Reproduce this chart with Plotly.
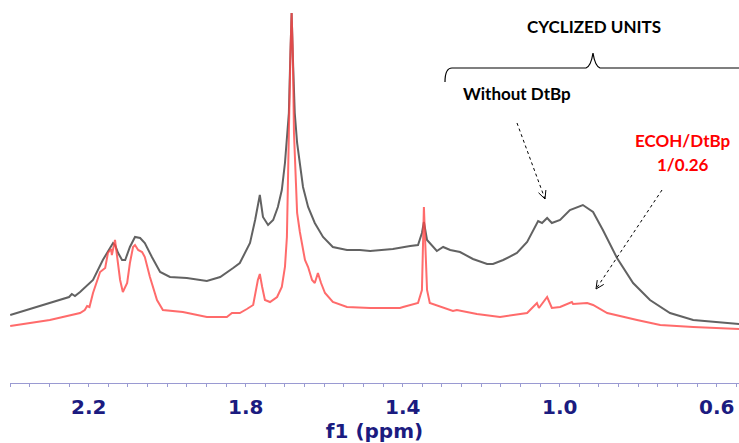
import math
import plotly.graph_objects as go

# ---- data (chemical shift in ppm, intensity in arbitrary units) ----
ppm_black = [2.400, 2.342, 2.300, 2.273, 2.250, 2.243, 2.235, 2.222, 2.189, 2.164, 2.146, 2.138,
             2.133, 2.125, 2.115, 2.107, 2.095, 2.082, 2.069, 2.057, 2.039, 2.018, 1.993, 1.950,
             1.899, 1.865, 1.832, 1.815, 1.789, 1.776, 1.764, 1.756, 1.743, 1.730, 1.718, 1.708,
             1.700, 1.695, 1.690, 1.687, 1.683, 1.679, 1.675, 1.669, 1.662, 1.654, 1.641, 1.624,
             1.603, 1.578, 1.542, 1.509, 1.483, 1.425, 1.381, 1.361, 1.351, 1.346, 1.338, 1.313,
             1.297, 1.279, 1.254, 1.221, 1.185, 1.170, 1.144, 1.109, 1.083, 1.068, 1.055, 1.045,
             1.032, 1.020, 0.999, 0.974, 0.941, 0.915, 0.890, 0.854, 0.813, 0.770, 0.719, 0.660,
             0.543]
int_black = [68, 75, 80, 83, 86, 89, 87, 91, 103, 123, 135, 140,
             138, 130, 123, 123, 136, 146, 145, 140, 126, 111, 106, 105,
             102, 106, 115, 120, 140, 163, 188, 166, 158, 163, 176, 193,
             220, 246, 270, 316, 370, 316, 270, 240, 220, 196, 176, 160,
             146, 136, 133, 133, 132, 134, 137, 138, 150, 161, 143, 132,
             136, 133, 131, 124, 119, 119, 123, 130, 141, 153, 162, 160,
             165, 160, 163, 173, 178, 171, 153, 125, 100, 83, 70, 63,
             59]

ppm_red = [2.400, 2.299, 2.222, 2.210, 2.204, 2.198, 2.189, 2.171, 2.158, 2.151, 2.143, 2.141,
           2.133, 2.128, 2.120, 2.113, 2.102, 2.095, 2.087, 2.082, 2.074, 2.064, 2.057, 2.044,
           2.026, 2.011, 1.960, 1.899, 1.848, 1.835, 1.815, 1.797, 1.781, 1.769, 1.764, 1.758,
           1.751, 1.738, 1.720, 1.708, 1.700, 1.695, 1.692, 1.690, 1.686, 1.683, 1.680, 1.677,
           1.672, 1.669, 1.662, 1.649, 1.641, 1.631, 1.624, 1.616, 1.608, 1.598, 1.578, 1.542,
           1.483, 1.407, 1.399, 1.361, 1.351, 1.346, 1.338, 1.331, 1.272, 1.262, 1.211, 1.152,
           1.083, 1.058, 1.053, 1.032, 1.020, 0.999, 0.969, 0.966, 0.930, 0.915, 0.879, 0.828,
           0.803, 0.744, 0.660, 0.543]
int_red = [57, 63, 70, 73, 77, 76, 90, 111, 115, 130, 134, 128,
           143, 126, 103, 91, 100, 120, 136, 138, 133, 131, 126, 106,
           83, 73, 71, 66, 66, 70, 70, 74, 78, 103, 109, 96,
           83, 81, 86, 96, 116, 146, 196, 250, 330, 370, 330, 250,
           200, 170, 151, 123, 116, 103, 100, 110, 100, 90, 81, 76,
           75, 75, 76, 80, 93, 176, 93, 80, 72, 73, 69, 66,
           70, 80, 75, 86, 75, 76, 81, 79, 80, 78, 70, 65,
           63, 58, 56, 54]

tick_vals = [2.2, 1.8, 1.4, 1.0, 0.6]
tick_text = ["2.2", "1.8", "1.4", "1.0", "0.6"]

# ---- geometry helpers (pixel -> data, for annotations only) ----
X0, X1 = 2.4005, 0.5432
L, W = 10, 729
H_TOP, H_BOT = 0, 383


def px2x(px):
    return X0 + (px - L) / W * (X1 - X0)


def py2y(py):
    return H_BOT - py


fig = go.Figure()
fig.add_trace(go.Scatter(x=ppm_black, y=int_black, mode="lines",
                         line=dict(color="rgba(70,70,70,0.85)", width=2), showlegend=False))
fig.add_trace(go.Scatter(x=ppm_red, y=int_red, mode="lines",
                         line=dict(color="rgba(255,70,70,0.8)", width=2), showlegend=False))

shapes = []
# curly brace
bx = [px2x(v) for v in (445, 447, 452, 586, 591, 593, 595, 600)]
by = [py2y(v) for v in (82, 68, 68, 68, 66, 53, 66, 68)]
path = (f"M {bx[0]},{by[0]} Q {bx[0]},{by[1]} {bx[2]},{by[2]} L {bx[3]},{by[3]} "
        f"Q {bx[4]},{by[4]} {bx[5]},{by[5]} Q {bx[6]},{by[6]} {bx[7]},{by[7]} "
        f"L {px2x(739)},{py2y(68)}")
shapes.append(dict(type="path", path=path, xref="x", yref="y",
                   line=dict(color="black", width=1.2)))


def dashed_arrow(x0, y0, x1, y1):
    shapes.append(dict(type="line", xref="x", yref="y",
                       x0=px2x(x0), y0=py2y(y0), x1=px2x(x1), y1=py2y(y1),
                       line=dict(color="black", width=1, dash="3px,3px")))
    dx, dy = x1 - x0, y1 - y0
    n = math.hypot(dx, dy)
    ux, uy = -dx / n, -dy / n
    pts = []
    for a in (0.45, -0.45):
        c, s = math.cos(a), math.sin(a)
        rx, ry = ux * c - uy * s, ux * s + uy * c
        pts.append((x1 + 9 * rx, y1 + 9 * ry))
    p = (f"M {px2x(pts[0][0])},{py2y(pts[0][1])} L {px2x(x1)},{py2y(y1)} "
         f"L {px2x(pts[1][0])},{py2y(pts[1][1])}")
    shapes.append(dict(type="path", path=p, xref="x", yref="y",
                       line=dict(color="black", width=1)))


dashed_arrow(517, 123, 545, 199)
dashed_arrow(662, 190, 596, 289)

ann_font = dict(family="Lato", size=17, weight="bold")
annotations = [
    dict(x=px2x(594), y=py2y(26), text="CYCLIZED UNITS", showarrow=False,
         xref="x", yref="y", font=dict(ann_font, color="black")),
    dict(x=px2x(517), y=py2y(93), text="Without DtBp", showarrow=False,
         xref="x", yref="y", font=dict(ann_font, color="black")),
    dict(x=px2x(683), y=py2y(140), text="ECOH/DtBp", showarrow=False,
         xref="x", yref="y", font=dict(ann_font, color="#ff0000")),
    dict(x=px2x(683), y=py2y(164), text="1/0.26", showarrow=False,
         xref="x", yref="y", font=dict(ann_font, color="#ff0000")),
]

axis_col = "#1b1b80"
fig.update_layout(
    width=739, height=443,
    margin=dict(l=L, r=0, t=H_TOP, b=443 - H_BOT, autoexpand=False),
    paper_bgcolor="white", plot_bgcolor="white",
    shapes=shapes, annotations=annotations,
    xaxis=dict(range=[X0, X1], showgrid=False, zeroline=False,
               showline=True, linecolor="#9a9ad2", linewidth=1,
               ticks="outside", ticklen=3, tickcolor="#9a9ad2",
               tickvals=tick_vals, ticktext=tick_text, ticklabelstandoff=3,
               tickfont=dict(family="DejaVu Sans", size=20, color=axis_col, weight="bold"),
               minor=dict(dtick=0.05, tick0=0.6, ticks="outside", ticklen=3,
                          tickcolor="#9a9ad2"),
               title=dict(text="f1 (ppm)", standoff=4,
                          font=dict(family="DejaVu Sans", size=20, color=axis_col,
                                    weight="bold"))),
    yaxis=dict(range=[0, H_BOT], visible=False, fixedrange=True),
)

fig.write_html("out.html", config={"displayModeBar": False},
               post_script="document.body.style.margin='0';document.body.style.padding='0';")
